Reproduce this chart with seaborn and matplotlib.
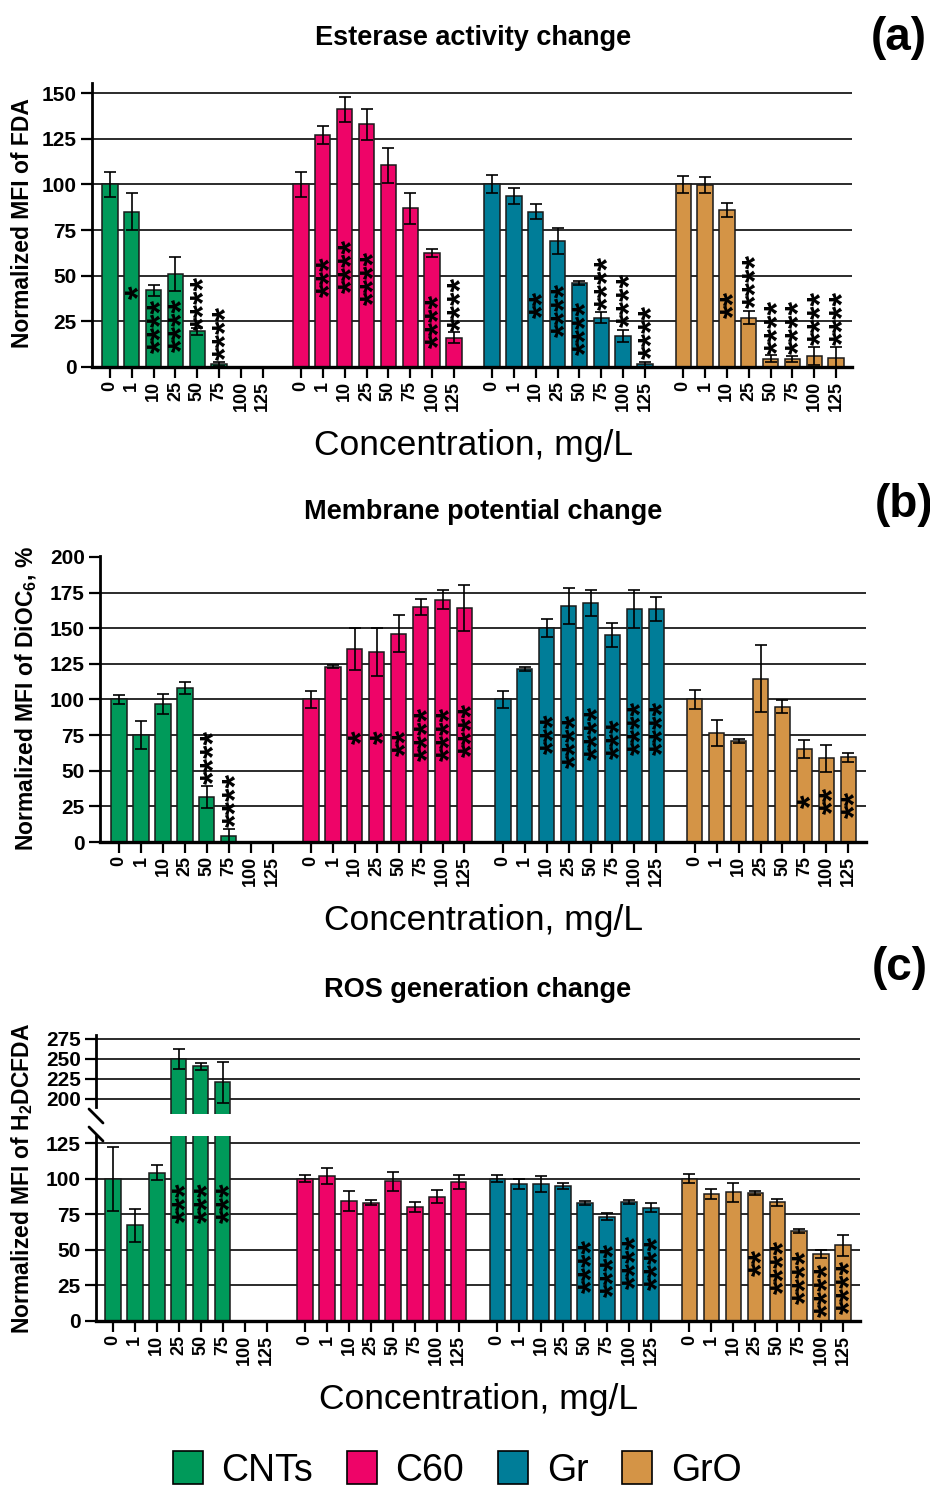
import numpy as np
import pandas as pd
import matplotlib
matplotlib.use("Agg")
import matplotlib.pyplot as plt
import seaborn as sns
from matplotlib.patches import Patch
from matplotlib.lines import Line2D

sns.set_style("ticks")
plt.rcParams["font.family"] = ["Liberation Sans", "DejaVu Sans"]
plt.rcParams["font.weight"] = "bold"
plt.rcParams["mathtext.fontset"] = "custom"
plt.rcParams["mathtext.rm"] = "Liberation Sans:bold"
plt.rcParams["mathtext.bf"] = "Liberation Sans:bold"
for k in ["text.color", "axes.labelcolor", "xtick.color", "ytick.color", "axes.edgecolor"]:
    plt.rcParams[k] = "black"

nan = np.nan
materials = ["CNTs", "C60", "Gr", "GrO"]
concentrations = ["0", "1", "10", "25", "50", "75", "100", "125"]
colors = ["#009A5A", "#EE0468", "#007D98", "#D49446"]

# ---------------- (a) Esterase activity (FDA) ----------------
a_cnt = [100, 85, 42, 51, 19.5, 1.5, nan, nan]
a_cnt_err = [7, 10, 3, 9.5, 2, 1, nan, nan]
a_c60 = [100, 127, 141, 133, 110.5, 87, 62.5, 16]
a_c60_err = [7, 5, 7, 8.5, 9.5, 8.5, 2, 3]
a_gr = [100, 93.5, 85, 69, 46, 27, 17, 1.5]
a_gr_err = [5, 4.5, 4, 7, 1.3, 3, 3.5, 1.4]
a_gro = [100, 99.5, 86, 27, 4.6, 4.4, 6, 5]
a_gro_err = [4.5, 4.5, 4, 3.6, 1.8, 1.6, 5, 6]
a_stars = [[0, 1, 4, 4, 4, 4, 0, 0],
           [0, 3, 4, 4, 0, 0, 4, 4],
           [0, 0, 2, 4, 4, 4, 4, 4],
           [0, 0, 2, 4, 4, 4, 4, 4]]
a_star_y = [[0, 41, 22.5, 23, 35.3, 18.8, 0, 0],
            [0, 49.6, 55.4, 49, 0, 0, 25.2, 34.4],
            [0, 0, 34.4, 31.3, 21.6, 46, 36.8, 19.4],
            [0, 0, 34.4, 47, 22.1, 22, 27.1, 27]]

# ---------------- (b) Membrane potential (DiOC6) ----------------
b_cnt = [100, 75, 97, 108, 31.6, 4.5, nan, nan]
b_cnt_err = [3.5, 9.8, 7, 4.4, 7.7, 4.4, nan, nan]
b_c60 = [100, 123, 135.5, 133.6, 146.2, 165, 170, 164.2]
b_c60_err = [6, 1, 14.7, 16.8, 13, 5.6, 6.8, 16.4]
b_gr = [100, 121.2, 150.4, 165.6, 167.7, 145.1, 163.5, 163.5]
b_gr_err = [6, 1.4, 6.3, 12.6, 9, 8.6, 13.3, 8.2]
b_gro = [100, 76.3, 71.2, 114.7, 95, 65.5, 58.7, 59.4]
b_gro_err = [6.8, 9.1, 1.4, 23.8, 4.6, 6.3, 9.6, 3]
b_stars = [[0, 0, 0, 0, 4, 4, 0, 0],
           [0, 0, 1, 1, 2, 4, 4, 4],
           [0, 0, 3, 4, 4, 3, 4, 4],
           [0, 0, 0, 0, 0, 1, 2, 2]]
b_star_y = [[0, 0, 0, 0, 59.6, 29.3, 0, 0],
            [0, 0, 73.7, 73.7, 69.8, 76, 76, 78.4],
            [0, 0, 76, 70.9, 76.8, 72.5, 80.3, 80.3],
            [0, 0, 0, 0, 0, 28.8, 29.3, 26.5]]

# ---------------- (c) ROS generation (H2DCFDA) ----------------
c_cnt = [100, 67.3, 104.1, 250, 240.6, 220.5, nan, nan]
c_cnt_err = [22.5, 11.5, 5.2, 13, 4, 26, nan, nan]
c_c60 = [100, 102, 84.4, 83.2, 98.3, 80.4, 87.4, 97.6]
c_c60_err = [2.5, 5.4, 6.8, 1.9, 6.7, 3.5, 4.7, 4.9]
c_gr = [100, 96.4, 96.2, 95, 82.8, 73.4, 83.5, 79.7]
c_gr_err = [2.5, 3.5, 5.8, 1.9, 1.2, 2.6, 1.6, 3.3]
c_gro = [100, 89.3, 90.3, 90, 83.5, 63.3, 47.1, 53.2]
c_gro_err = [3, 3.8, 6.6, 1.2, 2.5, 1.4, 3, 7.5]
c_stars = [[0, 0, 0, 3, 3, 3, 0, 0],
           [0, 0, 0, 0, 0, 0, 0, 0],
           [0, 0, 0, 0, 4, 4, 4, 4],
           [0, 0, 0, 2, 4, 4, 4, 4]]
c_star_y = [[0, 0, 0, 82.8, 82.8, 82.8, 0, 0],
            [0, 0, 0, 0, 0, 0, 0, 0],
            [0, 0, 0, 0, 38.9, 35.9, 41.7, 40.6],
            [0, 0, 0, 41.2, 38.2, 31.2, 21.8, 24.1]]

GROUP_STEP = 8.75
W, H = 930, 1488


def fx(x):
    return x / W


def fy(y):
    return 1 - y / H


def rect(x0, y0, x1, y1):
    return [fx(x0), fy(y1), (x1 - x0) / W, (y1 - y0) / H]


def make_df(vals, errs):
    rows = []
    for g, (v, e) in enumerate(zip(vals, errs)):
        for i, c in enumerate(concentrations):
            rows.append({"material": materials[g], "conc": c,
                         "pos": g * GROUP_STEP + i, "value": v[i], "err": e[i]})
    return pd.DataFrame(rows)


def draw_bars(ax, df, stars, star_y, grid_vals, ylim, xlim):
    for gv in grid_vals:
        ax.axhline(gv, color="#1a1a1a", lw=1.3, zorder=0.5)
    d = df.dropna(subset=["value"])
    sns.barplot(data=d, x="pos", y="value", hue="material", hue_order=materials,
                palette=dict(zip(materials, colors)), native_scale=True, dodge=False,
                width=0.7, errorbar=None, edgecolor="#1a1a1a", linewidth=1.1,
                saturation=1, legend=False, ax=ax, zorder=2)
    ax.errorbar(d["pos"], d["value"], yerr=d["err"], fmt="none", ecolor="black",
                elinewidth=1.2, capsize=4, capthick=1.2, zorder=3)
    for g in range(4):
        for i in range(8):
            n = stars[g][i]
            if n:
                ax.annotate("*" * n, xy=(g * GROUP_STEP + i, star_y[g][i]),
                            xytext=(6.0, 0), textcoords="offset points",
                            rotation=90, ha="center", va="center", fontsize=25,
                            fontweight="bold", family="Liberation Sans", color="black",
                            zorder=5, annotation_clip=False)
    ax.set_ylim(*ylim)
    ax.set_xlim(*xlim)
    ax.set_xlabel("")
    ax.set_ylabel("")
    for s in ["top", "right"]:
        ax.spines[s].set_visible(False)
    ax.spines["left"].set_linewidth(2)
    ax.spines["bottom"].set_linewidth(2.4)
    ax.tick_params(axis="both", direction="out", length=8, width=1.6, color="black")
    ax.tick_params(axis="y", labelsize=15, pad=3)
    ax.tick_params(axis="x", labelsize=13, pad=2)


def set_xticks(ax, df):
    ax.set_xticks(df["pos"].tolist())
    ax.set_xticklabels(df["conc"].tolist(), rotation=90, fontweight="bold")


fig = plt.figure(figsize=(9.3, 14.88), dpi=100)

# Panel (a)
df_a = make_df([a_cnt, a_c60, a_gr, a_gro], [a_cnt_err, a_c60_err, a_gr_err, a_gro_err])
ax_a = fig.add_axes(rect(92, 83, 852, 367))
draw_bars(ax_a, df_a, a_stars, a_star_y, [25, 50, 75, 100, 125, 150], (0, 155.5), (-0.82, 33.98))
ax_a.set_yticks([0, 25, 50, 75, 100, 125, 150])
set_xticks(ax_a, df_a)

# Panel (b)
df_b = make_df([b_cnt, b_c60, b_gr, b_gro], [b_cnt_err, b_c60_err, b_gr_err, b_gro_err])
ax_b = fig.add_axes(rect(100, 556, 866, 842))
draw_bars(ax_b, df_b, b_stars, b_star_y, [25, 50, 75, 100, 125, 150, 175], (0, 200.7), (-0.87, 34.06))
ax_b.set_yticks([0, 25, 50, 75, 100, 125, 150, 175, 200])
set_xticks(ax_b, df_b)

# Panel (c): broken axis
df_c = make_df([c_cnt, c_c60, c_gr, c_gro], [c_cnt_err, c_c60_err, c_gr_err, c_gro_err])
ax_c = fig.add_axes(rect(96, 1136, 860, 1321))
draw_bars(ax_c, df_c, c_stars, c_star_y, [25, 50, 75, 100, 125], (0, 130), (-0.77, 34.02))
ax_c.set_yticks([0, 25, 50, 75, 100, 125])
set_xticks(ax_c, df_c)

ax_ct = fig.add_axes(rect(96, 1035, 860, 1114))
draw_bars(ax_ct, df_c, [[0] * 8] * 4, c_star_y, [200, 225, 250, 275], (181, 280), (-0.77, 34.02))
ax_ct.set_yticks([200, 225, 250, 275])
ax_ct.spines["bottom"].set_visible(False)
ax_ct.spines["left"].set_bounds(190, 280)
ax_ct.set_xticks([])

for (x0, y0, x1, y1) in [(89, 1109, 103, 1123), (89, 1127, 103, 1141)]:
    fig.add_artist(Line2D([fx(x0), fx(x1)], [fy(y0), fy(y1)], color="black", lw=2,
                          transform=fig.transFigure))

for ax in [ax_a, ax_b, ax_c, ax_ct]:
    for lab in ax.get_yticklabels():
        lab.set_fontweight("bold")

# Axis labels
fig.text(fx(23), fy(223), "Normalized MFI of FDA", rotation=90, ha="center", va="center",
         fontsize=16.5, fontweight="bold")
fig.text(fx(26), fy(699), r"Normalized MFI of DiOC$_{6}$, %", rotation=90, ha="center",
         va="center", fontsize=16.5, fontweight="bold")
fig.text(fx(22), fy(1178), r"Normalized MFI of H$_{2}$DCFDA", rotation=90, ha="center",
         va="center", fontsize=16.5, fontweight="bold")

for (xc, yc) in [(473, 445), (483, 921), (478, 1400)]:
    fig.text(fx(xc), fy(yc), "Concentration, mg/L", ha="center", va="center",
             fontsize=25.5, fontweight="normal")

# Titles
fig.text(fx(473), fy(38), "Esterase activity change", ha="center", va="center",
         fontsize=19.5, fontweight="bold")
fig.text(fx(483), fy(512), "Membrane potential change", ha="center", va="center",
         fontsize=19.5, fontweight="bold")
fig.text(fx(478), fy(990), "ROS generation change", ha="center", va="center",
         fontsize=19.5, fontweight="bold")

# Panel letters
fig.text(fx(871), fy(38), "(a)", ha="left", va="center", fontsize=33, fontweight="bold")
fig.text(fx(875), fy(505), "(b)", ha="left", va="center", fontsize=33, fontweight="bold")
fig.text(fx(872), fy(968), "(c)", ha="left", va="center", fontsize=33, fontweight="bold")

# Legend
handles = [Patch(facecolor=c, edgecolor="black", linewidth=1.2) for c in colors]
fig.legend(handles, materials, loc="center", bbox_to_anchor=(fx(457), fy(1470)), ncol=4,
           frameon=False, prop={"size": 27, "weight": "normal"}, handlelength=0.8,
           handleheight=0.95, handletextpad=0.5, columnspacing=0.9)

fig.savefig("out.png", dpi=100)
